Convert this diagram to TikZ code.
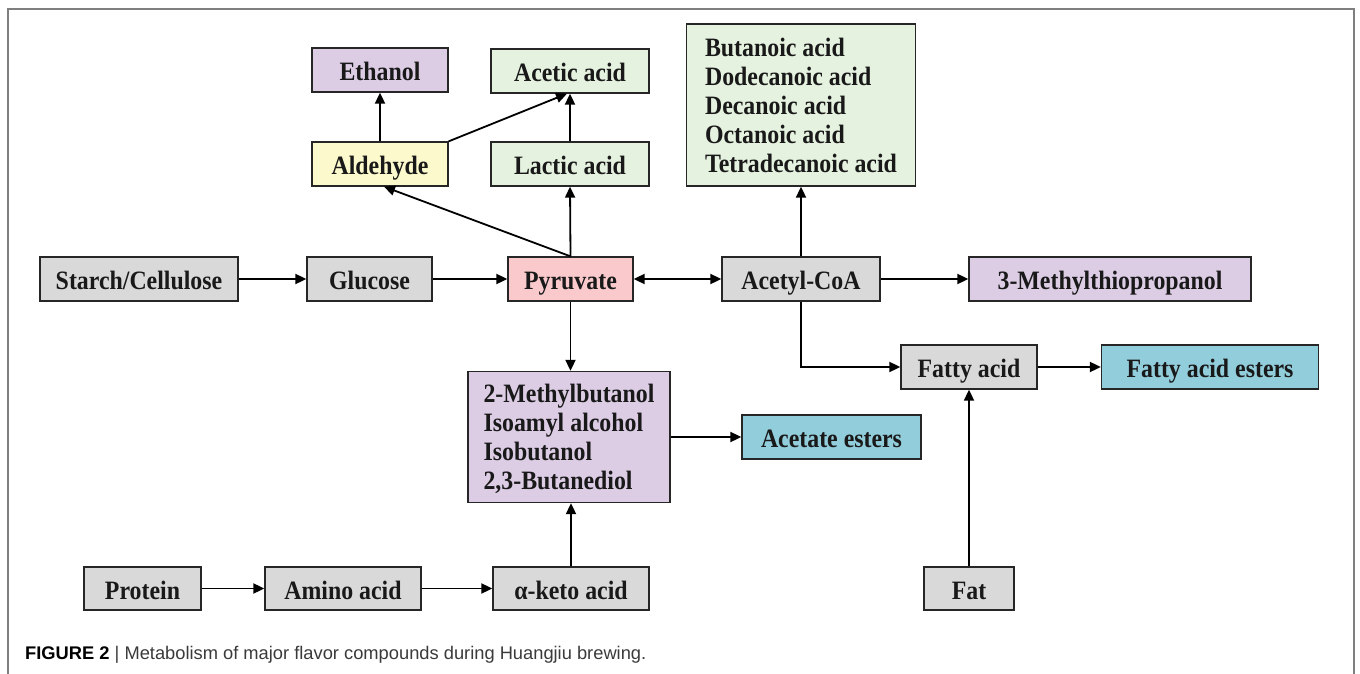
\documentclass[tikz,border=0pt]{standalone}
\usepackage{fontspec}
\setmainfont[FakeStretch=0.9]{Liberation Serif}
\newfontfamily\capfont{Liberation Sans}
\usetikzlibrary{arrows.meta}
\definecolor{bxgray}{HTML}{D9D9D9}
\definecolor{bxpurple}{HTML}{DCCDE5}
\definecolor{bxgreen}{HTML}{E6F2E0}
\definecolor{bxyellow}{HTML}{FCF9CC}
\definecolor{bxpink}{HTML}{F9C9CC}
\definecolor{bxblue}{HTML}{92CDDC}
\definecolor{framegray}{HTML}{7F7F7F}
\definecolor{captxt}{HTML}{3A3A3A}
\tikzset{
  basebox/.style={draw=black!85, line width=1.3pt, inner sep=0pt,
    font=\fontsize{26.5}{29}\selectfont\bfseries, text=black!90},
  box/.style={basebox, align=center, text height=23pt, text depth=2pt},
  listbox/.style={basebox, align=left},
  conn/.style={line width=1.8pt, -{Triangle[length=11pt,width=10pt]}},
  conn2/.style={line width=1.8pt, {Triangle[length=11pt,width=10pt]}-{Triangle[length=11pt,width=10pt]}}
}
\begin{document}
\begin{tikzpicture}[x=1pt,y=-1pt]
\useasboundingbox (0,0) rectangle (1360,674);
\draw[framegray, line width=1.5pt] (8,674) -- (8,9) -- (1354,9) -- (1354,674);

\node[box, fill=bxpurple, minimum width=136pt, minimum height=44pt] (eth) at (380,70) {Ethanol};
\node[box, fill=bxgreen, minimum width=158pt, minimum height=44pt] (ace) at (570,71) {Acetic acid};
\node[box, fill=bxyellow, minimum width=136pt, minimum height=44pt] (ald) at (380,164) {Aldehyde};
\node[box, fill=bxgreen, minimum width=158pt, minimum height=44pt] (lac) at (570,164) {Lactic acid};
\node[listbox, fill=bxgreen, minimum width=229pt, minimum height=162pt] (acids) at (801,105) {Butanoic acid\\Dodecanoic acid\\Decanoic acid\\Octanoic acid\\Tetradecanoic acid};

\node[box, fill=bxgray, minimum width=198pt, minimum height=44pt] (starch) at (139,279) {Starch/Cellulose};
\node[box, fill=bxgray, minimum width=125pt, minimum height=44pt] (glu) at (369.5,279) {Glucose};
\node[box, fill=bxpink, minimum width=125pt, minimum height=44pt] (pyr) at (570.5,279) {Pyruvate};
\node[box, fill=bxgray, minimum width=158pt, minimum height=44pt] (acoa) at (801,279) {Acetyl-CoA};
\node[box, fill=bxpurple, minimum width=282pt, minimum height=44pt] (mtp) at (1110,279) {3-Methylthiopropanol};

\node[box, fill=bxgray, minimum width=136pt, minimum height=44pt] (fa) at (969,367) {Fatty acid};
\node[box, fill=bxblue, minimum width=217pt, minimum height=44pt] (fae) at (1210,367) {Fatty acid esters};

\node[listbox, text depth=0pt, fill=bxpurple, minimum width=202pt, minimum height=131pt] (alc) at (569,437) {2-Methylbutanol\\Isoamyl alcohol\\Isobutanol\\2,3-Butanediol};
\node[box, fill=bxblue, minimum width=179pt, minimum height=44pt] (acet) at (831.5,437) {Acetate esters};

\node[box, fill=bxgray, minimum width=117pt, minimum height=43pt] (prot) at (142.5,588.5) {Protein};
\node[box, fill=bxgray, minimum width=156pt, minimum height=43pt] (amino) at (343,588.5) {Amino acid};
\node[box, fill=bxgray, minimum width=156pt, minimum height=43pt] (keto) at (571,588.5) {α-keto acid};
\node[box, fill=bxgray, minimum width=90pt, minimum height=43pt] (fat) at (969,588.5) {Fat};

\draw[conn] (ald) -- (eth);
\draw[conn] (ald.north east) -- ([xshift=-3pt]ace.south);
\draw[conn] (lac) -- (ace);
\draw[conn] (pyr.north) -- ([xshift=4pt]ald.south);
\draw[conn] (pyr.north) -- (lac.south);
\draw[conn] (starch) -- (glu);
\draw[conn] (glu) -- (pyr);
\draw[conn2] (pyr) -- (acoa);
\draw[conn] (acoa) -- (mtp);
\draw[conn] (acoa) -- (acids);
\draw[conn] (acoa.south) |- (fa.west);
\draw[conn] (fa) -- (fae);
\draw[conn] (pyr.south) -- (pyr.south |- alc.north);
\draw[conn] (alc) -- (acet);
\draw[conn] (keto.north) -- (keto.north |- alc.south);
\draw[conn] (prot) -- (amino);
\draw[conn] (amino) -- (keto);
\draw[conn] (fat) -- (fa);

\node[anchor=west, inner sep=0pt, font=\capfont\fontsize{18.3}{20}\selectfont, text=captxt] (cap) at (25,655)
  {{\bfseries\color{black}FIGURE 2} | Metabolism of major flavor compounds during Huangjiu brewing.};
\end{tikzpicture}
\end{document}
